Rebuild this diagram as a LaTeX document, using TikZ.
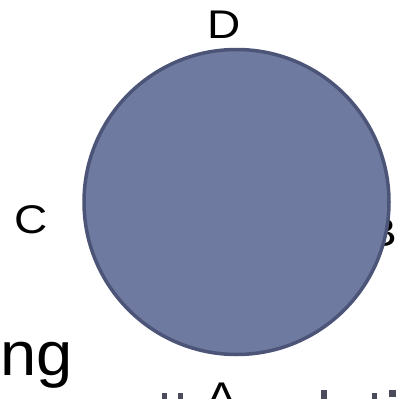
\documentclass[tikz,border=0pt]{standalone}
\usepackage{fontspec}
\setmainfont{Liberation Sans}
\definecolor{circfill}{HTML}{6F7AA0}
\definecolor{circline}{HTML}{4C5577}
\definecolor{markgray}{HTML}{4A4C5C}
\begin{document}
\begin{tikzpicture}[x=1pt,y=-1pt,
  lbl/.style={font=\fontsize{40}{40}\selectfont, inner sep=0pt, anchor=base, xscale=1.15},
  big/.style={font=\fontsize{62}{62}\selectfont, inner sep=0pt, anchor=base west, xscale=1.05},
  glyphmark/.style={fill=markgray, draw=none}]
\useasboundingbox (0,0) rectangle (402,399);
\begin{scope}
\clip (0,0) rectangle (402,399);
\node[lbl] (D) at (224,38) {D};
\node[lbl] (C) at (31,233) {C};
\node[lbl] (B) at (382,246) {B};
\node[lbl] (A) at (222,410) {A};
\node[big] (ng) at (0.5,375) {ng};
\fill[glyphmark] (162,393) rectangle (167,399);
\fill[glyphmark] (178,393) rectangle (183,399);
\fill[glyphmark] (321,390) rectangle (327,399);
\fill[glyphmark] (372,393) rectangle (377,399);
\fill[glyphmark] (389,390) rectangle (396,397);
\node[circle, draw=circline, line width=3.5pt, fill=circfill, minimum size=305pt, inner sep=0pt] (circ) at (236.5,202) {};
\end{scope}
\end{tikzpicture}
\end{document}
